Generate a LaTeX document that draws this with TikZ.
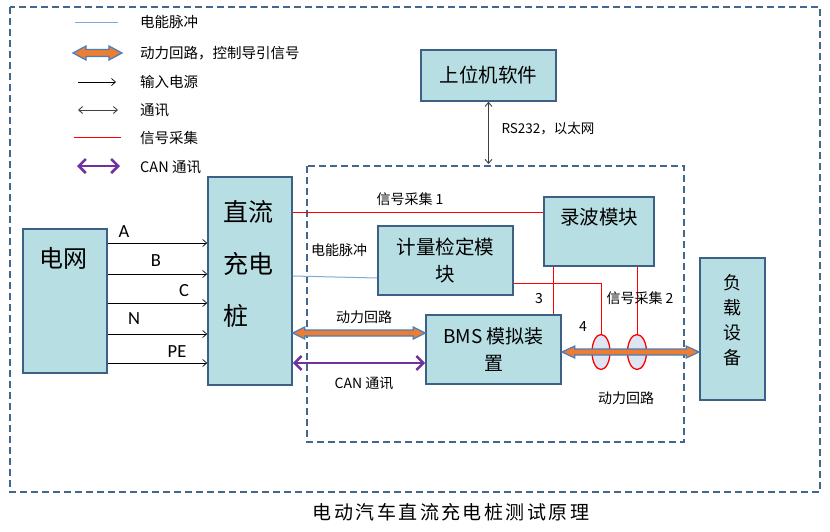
\documentclass[tikz,border=0pt]{standalone}
\usepackage{fontspec}
\setmainfont{Noto Sans CJK SC}
\newfontfamily\latinfont{Carlito}
\newfontfamily\capfont[LetterSpace=13]{Noto Sans CJK SC}
\usetikzlibrary{arrows.meta,calc,shapes.geometric}
\definecolor{boxfill}{HTML}{B7DEE3}
\definecolor{boxline}{HTML}{3D6185}
\definecolor{frame}{HTML}{44688C}
\definecolor{pulse}{HTML}{7EA9D8}
\definecolor{power}{HTML}{ED7D31}
\definecolor{powerline}{HTML}{4A7EBB}
\definecolor{canc}{HTML}{7030A0}
\definecolor{comm}{HTML}{404040}
\definecolor{ellfill}{HTML}{DCE6F2}
\tikzset{
 box/.style={draw=boxline, fill=boxfill, line width=1.6pt, inner sep=0pt},
 frm/.style={draw=frame, line width=1.4pt, dash pattern=on 7pt off 4pt},
 lbl/.style={font=\fontsize{14}{16}\selectfont, inner sep=0pt},
 leg/.style={font=\fontsize{14.5}{16}\selectfont, inner sep=0pt, anchor=west},
 ltr/.style={font=\latinfont\fontsize{18.5}{20}\selectfont, inner sep=0pt},
 inp/.style={line width=0.7pt, -{Straight Barb[length=4pt,width=7pt]}},
 com/.style={draw=comm, line width=0.9pt, {Straight Barb[length=4pt,width=7pt]}-{Straight Barb[length=4pt,width=7pt]}},
 sig/.style={draw=red, line width=0.9pt},
 pls/.style={draw=pulse, line width=1pt},
 can/.style={draw=canc, line width=2.5pt, {Straight Barb[length=7pt,width=14pt]}-{Straight Barb[length=7pt,width=14pt]}},
 pwr/.style={fill=power, draw=powerline, line width=1.2pt, line join=miter},
 ell/.style={draw=red, fill=ellfill, ellipse, line width=1.3pt, inner sep=0pt, minimum width=18pt, minimum height=35pt},
}
\newcommand\fatarrow[5]{%
 \path[pwr] let \p1=(#1), \p2=(#2) in
 (\x1,\y1) -- (\x1+#3,\y1+#4) -- (\x1+#3,\y1+#5) -- (\x2-#3,\y1+#5) -- (\x2-#3,\y1+#4) -- (\x2,\y1)
 -- (\x2-#3,\y1-#4) -- (\x2-#3,\y1-#5) -- (\x1+#3,\y1-#5) -- (\x1+#3,\y1-#4) -- cycle;}
\begin{document}
\begin{tikzpicture}[x=1pt,y=-1pt]
\useasboundingbox (0,0) rectangle (830,531);
% frames
\draw[frm] (10,7) rectangle (820,492);
\draw[frm] (307,166) rectangle (684,442);

% legend
\coordinate (l1a) at (75,22);  \coordinate (l1b) at (118,22);
\coordinate (l2a) at (73,53);  \coordinate (l2b) at (122,53);
\coordinate (l3a) at (78,82);  \coordinate (l3b) at (116,82);
\coordinate (l4a) at (78,110); \coordinate (l4b) at (118,110);
\coordinate (l5a) at (74,137); \coordinate (l5b) at (121,137);
\coordinate (l6a) at (77,166); \coordinate (l6b) at (120,166);
\draw[pls] (l1a) -- (l1b);
\fatarrow{l2a}{l2b}{13pt}{7pt}{3.5pt}
\draw[inp] (l3a) -- (l3b);
\draw[com] (l4a) -- (l4b);
\draw[sig] (l5a) -- (l5b);
\draw[can] (l6a) -- (l6b);
\node[leg] (t1) at (140,22) {电能脉冲};
\node[leg] (t2) at (140,53) {动力回路，控制导引信号};
\node[leg] (t3) at (140,82) {输入电源};
\node[leg] (t4) at (140,110) {通讯};
\node[leg] (t5) at (140,138) {信号采集};
\node[leg] (t6) at (140,167) {CAN 通讯};

% boxes
\node[box, minimum width=84pt, minimum height=144pt] (grid) at (65,301) {};
\node[font=\fontsize{24}{26}\selectfont, inner sep=0pt] (gridtxt) at (63,258) {电网};
\node[box, minimum width=84pt, minimum height=208pt] (dc) at (250,281) {};
\node[font=\fontsize{25}{52}\selectfont, align=left, inner sep=0pt] (dctxt) at (248,264) {直流\\充电\\桩};
\node[box, minimum width=135pt, minimum height=51pt, font=\fontsize{19.5}{22}\selectfont] (pc) at (488.5,75.5) {上位机软件};
\node[box, minimum width=110pt, minimum height=69pt] (rec) at (599,231.5) {};
\node[font=\fontsize{19.5}{22}\selectfont, inner sep=0pt] (rectxt) at (599,217) {录波模块};
\node[box, minimum width=135pt, minimum height=69pt, font=\fontsize{19.5}{27}\selectfont, align=center] (meter) at (445.5,260.5) {计量检定模\\块};
\node[box, minimum width=135pt, minimum height=69pt, font=\fontsize{19}{27}\selectfont, align=center] (bms) at (493.5,349.5) {BMS 模拟装\\置};
\node[box, minimum width=65pt, minimum height=142pt] (load) at (732.5,329) {};
\node[font=\fontsize{18}{25}\selectfont, align=center, inner sep=0pt] (loadtxt) at (732,320) {负\\载\\设\\备};

% input power
\draw[inp] (grid.east |- 0,243) -- (dc.west |- 0,243);
\draw[inp] (grid.east |- 0,274) -- (dc.west |- 0,274);
\draw[inp] (grid.east |- 0,303) -- (dc.west |- 0,303);
\draw[inp] (grid.east |- 0,334) -- (dc.west |- 0,334);
\draw[inp] (grid.east |- 0,363) -- (dc.west |- 0,363);
\node[ltr] (la) at (124,232) {A};
\node[ltr] (lb) at (156,261) {B};
\node[ltr] (lc) at (184,291) {C};
\node[ltr] (ln) at (134,319) {N};
\node[ltr] (lpe) at (177,352) {PE};

% communication to PC
\coordinate (ftop) at (pc.south |- 0,164);
\draw[com] (pc.south) -- (ftop);
\node[font=\fontsize{13.5}{15}\selectfont, inner sep=0pt] (rs) at (548,129) {RS232，以太网};

% signal lines
\draw[sig] (dc.east |- 0,212) -- (rec.west |- 0,212);
\node[lbl] (s1) at (410,199) {信号采集 1};
\draw[pls] (dc.east |- 0,276) -- (meter.west |- 0,278);
\node[lbl] (ep) at (339,250) {电能脉冲};

% ellipses
\node[ell] (e1) at (601,352) {};
\node[ell, minimum width=19pt] (e2) at (637,352) {};
\draw[sig] (rec.south -| 553,0) -- (bms.north -| 553,0);
\node[lbl] (n3) at (539,299) {3};
\draw[sig] (meter.east |- 0,283) -- (e1.north |- 0,283) -- (e1.north);
\node[lbl] (n4) at (583,327) {4};
\draw[sig] (rec.south -| e2.north) -- (e2.north);
\node[lbl] (s2) at (640,298) {信号采集 2};

% power loops and CAN
\fatarrow{dc.east |- 0,333}{bms.west |- 0,333}{12pt}{6pt}{3pt}
\node[lbl] (pw1) at (364,317) {动力回路};
\draw[can] (dc.east |- 0,363) -- (bms.west |- 0,363);
\node[lbl] (cn) at (364,383) {CAN 通讯};
\fatarrow{bms.east |- 0,352}{load.west |- 0,352}{13pt}{6pt}{3pt}
\node[lbl] (pw2) at (626,398) {动力回路};

% caption
\node[font=\capfont\fontsize{19}{22}\selectfont, inner sep=0pt] (cap) at (451,512) {电动汽车直流充电桩测试原理};
\end{tikzpicture}
\end{document}
